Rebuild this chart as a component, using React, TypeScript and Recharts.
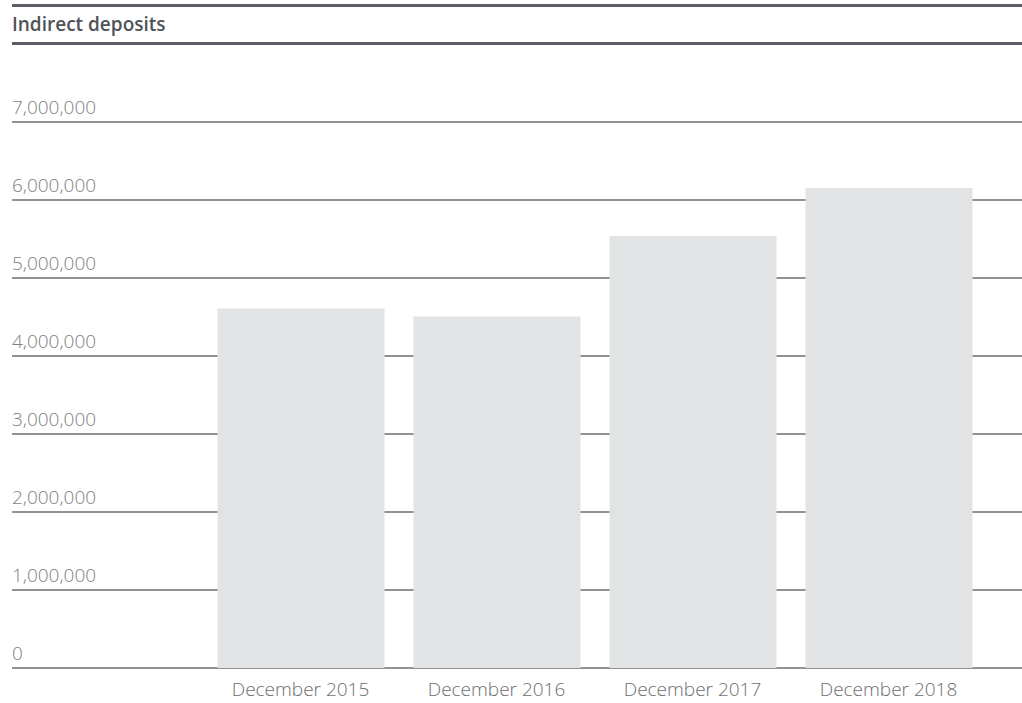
import React from 'react';
import { BarChart, Bar, XAxis, YAxis, CartesianGrid } from 'recharts';

const categories = ['December 2015', 'December 2016', 'December 2017', 'December 2018'];
const indirectDeposits = [4610000, 4505000, 5538000, 6154000];
const yTicks = [0, 1000000, 2000000, 3000000, 4000000, 5000000, 6000000, 7000000];

const data = categories.map((c, i) => ({ category: c, value: indirectDeposits[i] }));

const FONT = '"Open Sans", "Noto Sans", sans-serif';
const LINE = '#6d6e70';

const YTick = (props: any) => {
  const { y, payload } = props;
  return (
    <text x={12} y={y - 8} fill="#7d7f83" fontSize={19} fontWeight={300} fontFamily={FONT} textAnchor="start">
      {payload.value.toLocaleString('en-US')}
    </text>
  );
};

const XTick = (props: any) => {
  const { x, y, payload } = props;
  return (
    <text x={x} y={y + 20} fill="#6d6e70" fontSize={19} fontWeight={300} fontFamily={FONT} textAnchor="middle">
      {payload.value}
    </text>
  );
};

export default function App() {
  return (
    <div style={{ position: 'absolute', left: 0, top: 0, width: 1022, height: 703, background: '#fff' }}>
      <div style={{ position: 'absolute', left: 12, top: 4, width: 1010, height: 2.5, background: '#5b5e64' }} />
      <div
        style={{
          position: 'absolute',
          left: 12,
          top: 11,
          fontFamily: FONT,
          fontSize: 19,
          fontWeight: 600,
          color: '#4f5359',
        }}
      >
        Indirect deposits
      </div>
      <div style={{ position: 'absolute', left: 12, top: 42, width: 1010, height: 2.5, background: '#5b5e64' }} />
      <BarChart
        width={1022}
        height={703}
        data={data}
        margin={{ top: 122, right: 0, bottom: 0, left: 11 }}
        barSize={167}
      >
        <XAxis
          dataKey="category"
          axisLine={false}
          tickLine={false}
          padding={{ left: 190.5, right: 35.5 }}
          tick={<XTick />}
          interval={0}
          height={35}
        />
        <YAxis
          width={1}
          domain={[0, 7000000]}
          ticks={yTicks}
          axisLine={false}
          tickLine={false}
          tick={<YTick />}
          interval={0}
        />
        <Bar dataKey="value" fill="#e2e3e5" isAnimationActive={false} />
        <CartesianGrid vertical={false} stroke={LINE} strokeWidth={1.6} />
      </BarChart>
    </div>
  );
}
